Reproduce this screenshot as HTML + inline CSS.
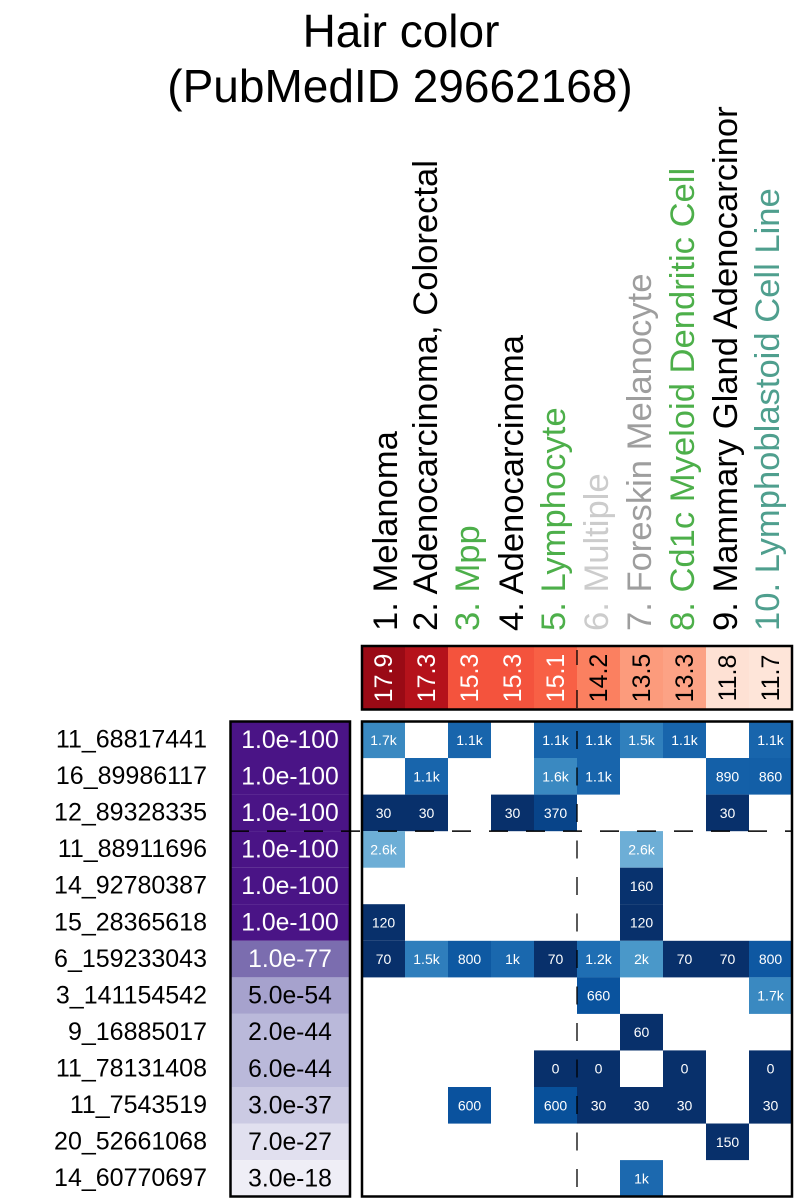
<!DOCTYPE html>
<html>
<head>
<meta charset="utf-8">
<style>
html,body{margin:0;padding:0;background:#fff;}
svg{display:block;}
text{font-family:"Liberation Sans",Arial,sans-serif;}
</style>
</head>
<body>
<svg width="806" height="1203" viewBox="0 0 806 1203" xmlns="http://www.w3.org/2000/svg">
<rect x="0" y="0" width="806" height="1203" fill="#fff"/>

<!-- Title -->
<text x="401" y="47" font-size="46" text-anchor="middle" fill="#000">Hair color</text>
<text x="400" y="102" font-size="46" text-anchor="middle" fill="#000">(PubMedID 29662168)</text>

<!-- Column labels -->
<g font-size="34.6">
<text transform="translate(397,631) rotate(-90)" fill="#000">1. Melanoma</text>
<text transform="translate(437,631) rotate(-90)" fill="#000">2. Adenocarcinoma, Colorectal</text>
<text transform="translate(479,631) rotate(-90)" fill="#4DAF4A">3. Mpp</text>
<text transform="translate(523,631) rotate(-90)" fill="#000">4. Adenocarcinoma</text>
<text transform="translate(565,631) rotate(-90)" fill="#4DAF4A">5. Lymphocyte</text>
<text transform="translate(608,631) rotate(-90)" fill="#CCCCCC">6. Multiple</text>
<text transform="translate(651,631) rotate(-90)" fill="#9E9E9E">7. Foreskin Melanocyte</text>
<text transform="translate(694,631) rotate(-90)" fill="#4DAF4A">8. Cd1c Myeloid Dendritic Cell</text>
<text transform="translate(737,631) rotate(-90)" fill="#000">9. Mammary Gland Adenocarcinor</text>
<text transform="translate(779,631) rotate(-90)" fill="#4F9F8E">10. Lymphoblastoid Cell Line</text>
</g>

<!-- Header score row -->
<g>
<rect x="362" y="646" width="43" height="63.5" fill="#9A0A15"/>
<rect x="405" y="646" width="43" height="63.5" fill="#B5121B"/>
<rect x="448" y="646" width="43" height="63.5" fill="#F4533D"/>
<rect x="491" y="646" width="43" height="63.5" fill="#F4533D"/>
<rect x="534" y="646" width="43" height="63.5" fill="#F86045"/>
<rect x="577" y="646" width="43" height="63.5" fill="#FB8060"/>
<rect x="620" y="646" width="43" height="63.5" fill="#FC9B7C"/>
<rect x="663" y="646" width="43" height="63.5" fill="#FCA285"/>
<rect x="706" y="646" width="43" height="63.5" fill="#FEE1D4"/>
<rect x="749" y="646" width="43" height="63.5" fill="#FEE5D9"/>
</g>
<g font-size="25" text-anchor="middle">
<text transform="translate(392,678) rotate(-90)" fill="#fff">17.9</text>
<text transform="translate(435,678) rotate(-90)" fill="#fff">17.3</text>
<text transform="translate(478,678) rotate(-90)" fill="#fff">15.3</text>
<text transform="translate(521,678) rotate(-90)" fill="#fff">15.3</text>
<text transform="translate(564,678) rotate(-90)" fill="#fff">15.1</text>
<text transform="translate(607,678) rotate(-90)" fill="#000">14.2</text>
<text transform="translate(650,678) rotate(-90)" fill="#000">13.5</text>
<text transform="translate(693,678) rotate(-90)" fill="#000">13.3</text>
<text transform="translate(736,678) rotate(-90)" fill="#000">11.8</text>
<text transform="translate(779,678) rotate(-90)" fill="#000">11.7</text>
</g>
<line x1="577" y1="650" x2="577" y2="665" stroke="#000" stroke-width="1.3"/>
<line x1="577" y1="690" x2="577" y2="708" stroke="#000" stroke-width="1.3"/>
<rect x="362" y="646" width="430" height="63.5" fill="none" stroke="#000" stroke-width="2.5"/>

<!-- Row labels -->
<g font-size="25" text-anchor="end" fill="#000">
<text x="207" y="747.5">11_68817441</text>
<text x="207" y="784.1">16_89986117</text>
<text x="207" y="820.6">12_89328335</text>
<text x="207" y="857.2">11_88911696</text>
<text x="207" y="893.7">14_92780387</text>
<text x="207" y="930.3">15_28365618</text>
<text x="207" y="966.8">6_159233043</text>
<text x="207" y="1003.4">3_141154542</text>
<text x="207" y="1039.9">9_16885017</text>
<text x="207" y="1076.5">11_78131408</text>
<text x="207" y="1113">11_7543519</text>
<text x="207" y="1149.6">20_52661068</text>
<text x="207" y="1186.1">14_60770697</text>
</g>

<!-- P-value column -->
<g>
<rect x="230.5" y="721.5" width="119.5" height="36.6" fill="#4A1486"/>
<rect x="230.5" y="758" width="119.5" height="36.6" fill="#4A1486"/>
<rect x="230.5" y="794.6" width="119.5" height="36.6" fill="#4A1486"/>
<rect x="230.5" y="831.1" width="119.5" height="36.6" fill="#4A1486"/>
<rect x="230.5" y="867.7" width="119.5" height="36.6" fill="#4A1486"/>
<rect x="230.5" y="904.2" width="119.5" height="36.6" fill="#4A1486"/>
<rect x="230.5" y="940.8" width="119.5" height="36.6" fill="#7B6DAF"/>
<rect x="230.5" y="977.3" width="119.5" height="36.6" fill="#A6A2CD"/>
<rect x="230.5" y="1013.9" width="119.5" height="36.6" fill="#BAB9DA"/>
<rect x="230.5" y="1050.4" width="119.5" height="36.6" fill="#BAB9DA"/>
<rect x="230.5" y="1087" width="119.5" height="36.6" fill="#CBCAE3"/>
<rect x="230.5" y="1123.5" width="119.5" height="36.6" fill="#E1E0EF"/>
<rect x="230.5" y="1160.1" width="119.5" height="36.6" fill="#EFEEF6"/>
</g>
<g font-size="24.7" text-anchor="middle">
<text x="290" y="747.8" fill="#fff">1.0e-100</text>
<text x="290" y="784.4" fill="#fff">1.0e-100</text>
<text x="290" y="820.9" fill="#fff">1.0e-100</text>
<text x="290" y="857.5" fill="#fff">1.0e-100</text>
<text x="290" y="894" fill="#fff">1.0e-100</text>
<text x="290" y="930.6" fill="#fff">1.0e-100</text>
<text x="290" y="967.1" fill="#fff">1.0e-77</text>
<text x="290" y="1003.7" fill="#000">5.0e-54</text>
<text x="290" y="1040.2" fill="#000">2.0e-44</text>
<text x="290" y="1076.8" fill="#000">6.0e-44</text>
<text x="290" y="1113.3" fill="#000">3.0e-37</text>
<text x="290" y="1149.9" fill="#000">7.0e-27</text>
<text x="290" y="1186.4" fill="#000">3.0e-18</text>
</g>
<rect x="230.5" y="721.5" width="119.5" height="475" fill="none" stroke="#000" stroke-width="2.5"/>

<!-- Grid cells -->
<g>
<rect x="362" y="721.5" width="43" height="36.6" fill="#3A89C1"/>
<rect x="448" y="721.5" width="43" height="36.6" fill="#1865AC"/>
<rect x="534" y="721.5" width="43" height="36.6" fill="#1865AC"/>
<rect x="577" y="721.5" width="43" height="36.6" fill="#1865AC"/>
<rect x="620" y="721.5" width="43" height="36.6" fill="#3080BD"/>
<rect x="663" y="721.5" width="43" height="36.6" fill="#1865AC"/>
<rect x="749" y="721.5" width="43" height="36.6" fill="#1865AC"/>

<rect x="405" y="758" width="43" height="36.6" fill="#1865AC"/>
<rect x="534" y="758" width="43" height="36.6" fill="#3A89C1"/>
<rect x="577" y="758" width="43" height="36.6" fill="#1865AC"/>
<rect x="706" y="758" width="43" height="36.6" fill="#1460A8"/>
<rect x="749" y="758" width="43" height="36.6" fill="#135FA7"/>

<rect x="362" y="794.6" width="43" height="36.6" fill="#08306B"/>
<rect x="405" y="794.6" width="43" height="36.6" fill="#08306B"/>
<rect x="491" y="794.6" width="43" height="36.6" fill="#08306B"/>
<rect x="534" y="794.6" width="43" height="36.6" fill="#084489"/>
<rect x="706" y="794.6" width="43" height="36.6" fill="#08306B"/>

<rect x="362" y="831.1" width="43" height="36.6" fill="#6DAED6"/>
<rect x="620" y="831.1" width="43" height="36.6" fill="#6DAED6"/>

<rect x="620" y="867.7" width="43" height="36.6" fill="#08326E"/>

<rect x="362" y="904.2" width="43" height="36.6" fill="#08306B"/>
<rect x="620" y="904.2" width="43" height="36.6" fill="#08306B"/>

<rect x="362" y="940.8" width="43" height="36.6" fill="#08306B"/>
<rect x="405" y="940.8" width="43" height="36.6" fill="#2F7EBC"/>
<rect x="448" y="940.8" width="43" height="36.6" fill="#0E59A2"/>
<rect x="491" y="940.8" width="43" height="36.6" fill="#1A68AE"/>
<rect x="534" y="940.8" width="43" height="36.6" fill="#08306B"/>
<rect x="577" y="940.8" width="43" height="36.6" fill="#1F6EB3"/>
<rect x="620" y="940.8" width="43" height="36.6" fill="#4A98C9"/>
<rect x="663" y="940.8" width="43" height="36.6" fill="#08306B"/>
<rect x="706" y="940.8" width="43" height="36.6" fill="#08306B"/>
<rect x="749" y="940.8" width="43" height="36.6" fill="#0E58A2"/>

<rect x="577" y="977.3" width="43" height="36.6" fill="#0A539E"/>
<rect x="749" y="977.3" width="43" height="36.6" fill="#3A89C1"/>

<rect x="620" y="1013.9" width="43" height="36.6" fill="#08306B"/>

<rect x="534" y="1050.4" width="86" height="36.6" fill="#08306B"/>
<rect x="663" y="1050.4" width="43" height="36.6" fill="#08306B"/>
<rect x="749" y="1050.4" width="43" height="36.6" fill="#08306B"/>

<rect x="448" y="1087" width="43" height="36.6" fill="#0A529E"/>
<rect x="534" y="1087" width="43" height="36.6" fill="#08509A"/>
<rect x="577" y="1087" width="129" height="36.6" fill="#08306B"/>
<rect x="749" y="1087" width="43" height="36.6" fill="#08306B"/>

<rect x="706" y="1123.5" width="43" height="36.6" fill="#08306B"/>

<rect x="620" y="1160.1" width="43" height="36.6" fill="#1C69AF"/>
</g>

<!-- Grid cell text -->
<g font-size="14" text-anchor="middle" fill="#fff">
<text x="383.5" y="744.8">1.7k</text>
<text x="469.5" y="744.8">1.1k</text>
<text x="555.5" y="744.8">1.1k</text>
<text x="598.5" y="744.8">1.1k</text>
<text x="641.5" y="744.8">1.5k</text>
<text x="684.5" y="744.8">1.1k</text>
<text x="770.5" y="744.8">1.1k</text>

<text x="426.5" y="781.3">1.1k</text>
<text x="555.5" y="781.3">1.6k</text>
<text x="598.5" y="781.3">1.1k</text>
<text x="727.5" y="781.3">890</text>
<text x="770.5" y="781.3">860</text>

<text x="383.5" y="817.9">30</text>
<text x="426.5" y="817.9">30</text>
<text x="512.5" y="817.9">30</text>
<text x="555.5" y="817.9">370</text>
<text x="727.5" y="817.9">30</text>

<text x="383.5" y="854.4">2.6k</text>
<text x="641.5" y="854.4">2.6k</text>

<text x="641.5" y="891">160</text>

<text x="383.5" y="927.5">120</text>
<text x="641.5" y="927.5">120</text>

<text x="383.5" y="964.1">70</text>
<text x="426.5" y="964.1">1.5k</text>
<text x="469.5" y="964.1">800</text>
<text x="512.5" y="964.1">1k</text>
<text x="555.5" y="964.1">70</text>
<text x="598.5" y="964.1">1.2k</text>
<text x="641.5" y="964.1">2k</text>
<text x="684.5" y="964.1">70</text>
<text x="727.5" y="964.1">70</text>
<text x="770.5" y="964.1">800</text>

<text x="598.5" y="1000.6">660</text>
<text x="770.5" y="1000.6">1.7k</text>

<text x="641.5" y="1037.2">60</text>

<text x="555.5" y="1073.7">0</text>
<text x="598.5" y="1073.7">0</text>
<text x="684.5" y="1073.7">0</text>
<text x="770.5" y="1073.7">0</text>

<text x="469.5" y="1110.3">600</text>
<text x="555.5" y="1110.3">600</text>
<text x="598.5" y="1110.3">30</text>
<text x="641.5" y="1110.3">30</text>
<text x="684.5" y="1110.3">30</text>
<text x="770.5" y="1110.3">30</text>

<text x="727.5" y="1146.8">150</text>

<text x="641.5" y="1183.4">1k</text>
</g>

<!-- Dashed separators -->
<line x1="577" y1="723" x2="577" y2="1196" stroke="#000" stroke-width="1.3" stroke-dasharray="18,18.5" stroke-dashoffset="-8"/>
<line x1="230" y1="831.1" x2="792" y2="831.1" stroke="#000" stroke-width="1.5" stroke-dasharray="19,18"/>

<rect x="362" y="721.5" width="430" height="475" fill="none" stroke="#000" stroke-width="2.5"/>
</svg>
</body>
</html>
